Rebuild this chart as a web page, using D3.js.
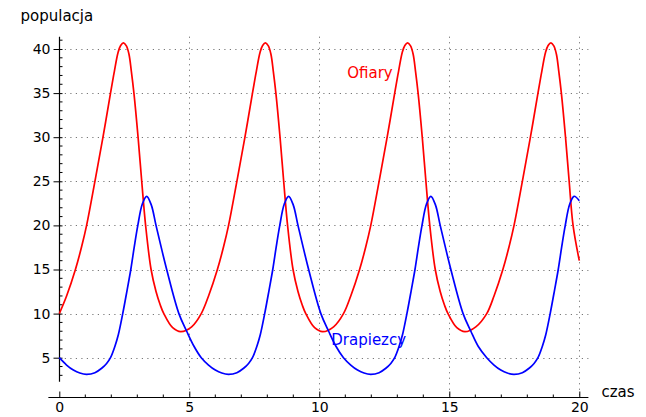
<!DOCTYPE html>
<html>
<head>
<meta charset="utf-8">
<script src="https://cdn.jsdelivr.net/npm/d3@7"></script>
<style>
  html, body { margin: 0; padding: 0; background: #fff; }
  svg { display: block; font-family: "DejaVu Sans", sans-serif; }
</style>
</head>
<body>
<svg id="chart" width="646" height="417"></svg>
<script>
// ---- data ----
const preyT = [
  0, 0.28, 0.62, 0.86, 1.05, 1.37, 1.68, 1.97, 2.12, 2.26, 2.36, 2.47, 2.58, 2.68, 2.77, 2.87, 3.03, 3.17, 3.32, 3.53, 3.72, 3.88, 4.02, 4.36, 4.67, 5.09,
  5.46, 5.74, 6.08, 6.32, 6.51, 6.83, 7.14, 7.43, 7.58, 7.72, 7.82, 7.93, 8.04, 8.14, 8.23, 8.33, 8.49, 8.63, 8.78, 8.99, 9.18, 9.34, 9.48, 9.82, 10.13, 10.55,
  10.93, 11.21, 11.55, 11.79, 11.98, 12.30, 12.61, 12.90, 13.05, 13.19, 13.29, 13.40, 13.51, 13.61, 13.70, 13.80, 13.96, 14.10, 14.25, 14.46, 14.65, 14.81, 14.95, 15.29, 15.60, 16.02,
  16.44, 16.72, 17.06, 17.30, 17.49, 17.81, 18.12, 18.41, 18.56, 18.70, 18.80, 18.91, 19.02, 19.12, 19.21, 19.31, 19.47, 19.61, 19.76, 20.0
];
const preyV = [
  10, 12.0, 15, 17.6, 20, 25, 30, 35, 37.5, 39.6, 40.4, 40.7, 40.35, 39.4, 37.5, 35, 30, 25, 20, 15, 12.5, 11, 10, 8.4, 7.95, 8.5,
  10, 12.0, 15, 17.6, 20, 25, 30, 35, 37.5, 39.6, 40.4, 40.7, 40.35, 39.4, 37.5, 35, 30, 25, 20, 15, 12.5, 11, 10, 8.4, 7.95, 8.5,
  10, 12.0, 15, 17.6, 20, 25, 30, 35, 37.5, 39.6, 40.4, 40.7, 40.35, 39.4, 37.5, 35, 30, 25, 20, 15, 12.5, 11, 10, 8.4, 7.95, 8.5,
  10, 12.0, 15, 17.6, 20, 25, 30, 35, 37.5, 39.6, 40.4, 40.7, 40.35, 39.4, 37.5, 35, 30, 25, 20, 16.0
];
const predT = [
  0, 0.28, 0.54, 0.79, 1.05, 1.37, 1.63, 1.82, 1.97, 2.14, 2.27, 2.44, 2.61, 2.75, 2.88, 3.02, 3.19, 3.36, 3.54, 3.72, 4.13, 4.60, 4.90, 5.18,
  5.46, 5.74, 6.00, 6.25, 6.51, 6.83, 7.09, 7.28, 7.43, 7.60, 7.73, 7.90, 8.07, 8.21, 8.34, 8.48, 8.65, 8.82, 9.00, 9.18, 9.59, 10.06, 10.36, 10.64,
  10.93, 11.21, 11.47, 11.72, 11.98, 12.30, 12.56, 12.75, 12.90, 13.07, 13.20, 13.37, 13.54, 13.68, 13.81, 13.95, 14.12, 14.29, 14.47, 14.65, 15.06, 15.53, 15.83, 16.11,
  16.44, 16.72, 16.98, 17.23, 17.49, 17.81, 18.07, 18.26, 18.41, 18.58, 18.71, 18.88, 19.05, 19.19, 19.32, 19.46, 19.63, 19.80, 20.0
];
const predV = [
  5, 4.17, 3.6, 3.26, 3.12, 3.3, 3.8, 4.35, 5.0, 6.3, 7.6, 10.0, 12.7, 15, 17.5, 20, 22.4, 23.3, 22.3, 20, 15, 10, 8.0, 6.3,
  5, 4.17, 3.6, 3.26, 3.12, 3.3, 3.8, 4.35, 5.0, 6.3, 7.6, 10.0, 12.7, 15, 17.5, 20, 22.4, 23.3, 22.3, 20, 15, 10, 8.0, 6.3,
  5, 4.17, 3.6, 3.26, 3.12, 3.3, 3.8, 4.35, 5.0, 6.3, 7.6, 10.0, 12.7, 15, 17.5, 20, 22.4, 23.3, 22.3, 20, 15, 10, 8.0, 6.3,
  5, 4.17, 3.6, 3.26, 3.12, 3.3, 3.8, 4.35, 5.0, 6.3, 7.6, 10.0, 12.7, 15, 17.5, 20, 22.4, 23.3, 22.8
];
const xTicks = [0, 5, 10, 15, 20];
const yTicks = [5, 10, 15, 20, 25, 30, 35, 40];
const xMinor = [1, 2, 3, 4, 6, 7, 8, 9, 11, 12, 13, 14, 16, 17, 18, 19];
const yMinor = [3, 4, 6, 7, 8, 9, 11, 12, 13, 14, 16, 17, 18, 19, 21, 22, 23, 24, 26, 27, 28, 29, 31, 32, 33, 34, 36, 37, 38, 39, 41];
const xLabel = "czas";
const yLabel = "populacja";
const seriesNames = ["Ofiary", "Drapiezcy"];
const seriesColors = ["#ff0000", "#0000ff"];

// ---- layout ----
const svg = d3.select("#chart");
const x = d3.scaleLinear().domain([0, 20]).range([59.3, 579.3]);
const y = d3.scaleLinear().domain([0, 40]).range([401.8, 49]);
const xAxisY = 396.7;
const yTop = 41.4, yBot = 2.28;     // extent of the vertical axis line
const xLeft = -0.42, xRight = 20.35; // extent of the horizontal axis line

// grid (dotted)
const grid = svg.append("g").attr("stroke", "#777").attr("stroke-width", 1)
  .attr("stroke-dasharray", "1.2,4.3").attr("fill", "none");
grid.selectAll("line.h").data(yTicks).join("line").attr("class", "h")
  .attr("x1", x(0)).attr("x2", x(xRight))
  .attr("y1", d => Math.round(y(d)) + 0.5).attr("y2", d => Math.round(y(d)) + 0.5);
grid.selectAll("line.v").data(xTicks.filter(d => d > 0)).join("line").attr("class", "v")
  .attr("x1", d => Math.round(x(d)) + 0.5).attr("x2", d => Math.round(x(d)) + 0.5)
  .attr("y1", y(yTop)).attr("y2", xAxisY);

// y axis
const yAxis = d3.axisLeft(y).tickValues(yTicks).tickSizeInner(6).tickSizeOuter(0).tickPadding(3);
const gy = svg.append("g").attr("transform", `translate(${Math.round(x(0)) + 0.5},0)`).call(yAxis);
gy.select(".domain").remove();
gy.selectAll(".tick line").attr("stroke", "#000").attr("x2", -6).attr("x1", 3);
gy.selectAll(".tick text").attr("font-size", 14).attr("font-family", "DejaVu Sans").attr("fill", "#000");
gy.selectAll("line.minor").data(yMinor).join("line").attr("class", "minor")
  .attr("x1", 0).attr("x2", 3).attr("y1", d => y(d)).attr("y2", d => y(d)).attr("stroke", "#000");
gy.append("line").attr("x1", 0).attr("x2", 0).attr("y1", y(yTop)).attr("y2", y(yBot))
  .attr("stroke", "#000").attr("stroke-width", 1.2);

// x axis
const xAxis = d3.axisBottom(x).tickValues(xTicks).tickSizeInner(-6).tickSizeOuter(0).tickPadding(8);
const gx = svg.append("g").attr("transform", `translate(0,${Math.round(xAxisY) + 0.5})`).call(xAxis);
gx.select(".domain").remove();
gx.selectAll(".tick line").attr("stroke", "#000").attr("y1", 0).attr("y2", -6);
gx.selectAll(".tick text").attr("font-size", 14).attr("font-family", "DejaVu Sans").attr("fill", "#000")
  .attr("dy", "0.71em").attr("y", 5);
gx.selectAll("line.minor").data(xMinor).join("line").attr("class", "minor")
  .attr("x1", d => x(d)).attr("x2", d => x(d)).attr("y1", 0).attr("y2", -3).attr("stroke", "#000");
gx.append("line").attr("x1", x(xLeft)).attr("x2", x(xRight)).attr("y1", 0).attr("y2", 0)
  .attr("stroke", "#000").attr("stroke-width", 1.2);

// axis labels
svg.append("text").attr("x", 20.5).attr("y", 21).attr("font-size", 15).attr("fill", "#000").text(yLabel);
svg.append("text").attr("x", 601.5).attr("y", 397).attr("font-size", 15).attr("fill", "#000").text(xLabel);

// series
const line = d3.line().x(d => x(d[0])).y(d => y(d[1])).curve(d3.curveCatmullRom.alpha(0.5));
const prey = preyT.map((t, i) => [t, preyV[i]]);
const pred = predT.map((t, i) => [t, predV[i]]);
svg.append("path").datum(prey).attr("d", line).attr("fill", "none")
  .attr("stroke", seriesColors[0]).attr("stroke-width", 1.7).attr("stroke-linejoin", "round");
svg.append("path").datum(pred).attr("d", line).attr("fill", "none")
  .attr("stroke", seriesColors[1]).attr("stroke-width", 1.7).attr("stroke-linejoin", "round");

// series labels
svg.append("text").attr("x", x(11.95)).attr("y", y(37.3)).attr("dy", "0.36em")
  .attr("text-anchor", "middle").attr("font-size", 15).attr("fill", seriesColors[0]).text(seriesNames[0]);
svg.append("text").attr("x", x(11.9)).attr("y", y(7.1)).attr("dy", "0.36em")
  .attr("text-anchor", "middle").attr("font-size", 15).attr("fill", seriesColors[1]).text(seriesNames[1]);
</script>
</body>
</html>
